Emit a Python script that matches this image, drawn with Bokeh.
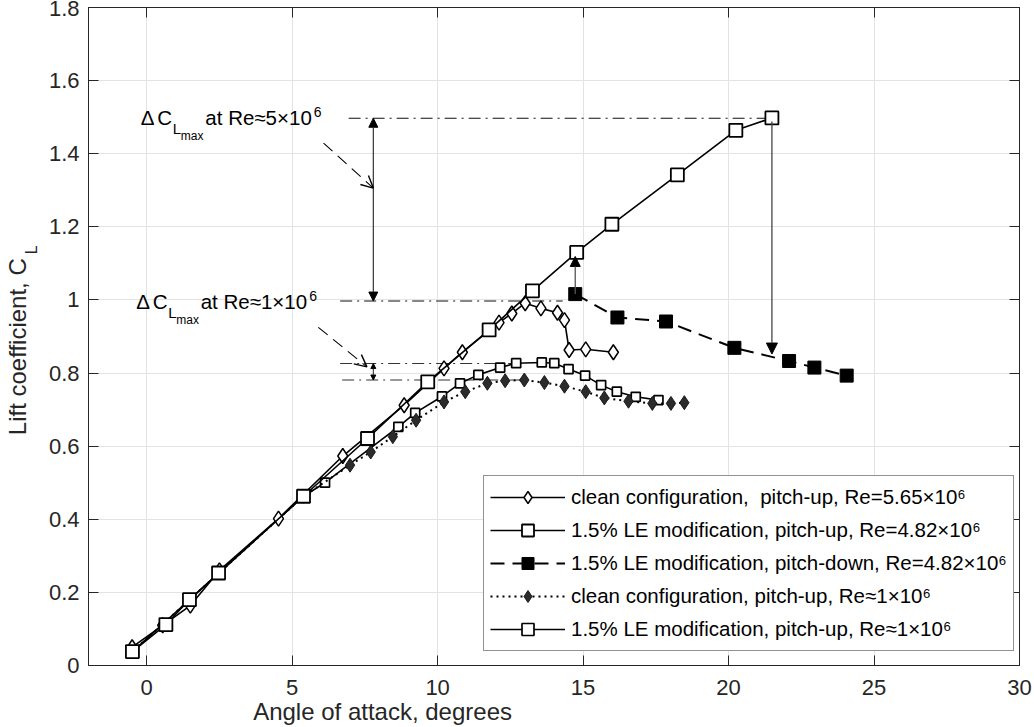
from math import pi, sin, cos
from bokeh.plotting import figure
from bokeh.models import (LinearAxis, FixedTicker, Range1d, Legend, LegendItem, Label,
                          Arrow, NormalHead, OpenHead)
from bokeh.embed import file_html
from bokeh.resources import INLINE

# ---------------- data ----------------
# clean configuration, pitch-up, Re=5.65e6 (open diamonds, solid)
clean_hi_aoa = [-0.5, 0.55, 1.5, 2.5, 4.53, 6.74, 8.85, 10.22, 10.85, 12.11, 12.55, 13.01,
                13.55, 14.12, 14.36, 14.52, 15.09, 16.04]
clean_hi_cl = [0.05, 0.11, 0.164, 0.26, 0.402, 0.573, 0.712, 0.813, 0.857, 0.938, 0.963, 0.991,
               0.977, 0.965, 0.945, 0.863, 0.865, 0.857]

# 1.5% LE modification, pitch-up, Re=4.82e6 (large open squares, solid)
le_up_aoa = [-0.49, 0.66, 1.47, 2.47, 5.39, 7.59, 9.66, 11.77, 13.26, 14.78, 15.99, 18.24,
             20.25, 21.49]
le_up_cl = [0.038, 0.112, 0.18, 0.253, 0.463, 0.621, 0.776, 0.918, 1.025, 1.13, 1.207, 1.342,
            1.464, 1.498]

# 1.5% LE modification, pitch-down, Re=4.82e6 (filled squares, dashed)
le_down_aoa = [14.73, 16.18, 17.85, 20.2, 22.08, 22.95, 24.06]
le_down_cl = [1.016, 0.952, 0.941, 0.869, 0.833, 0.815, 0.793]

# clean configuration, pitch-up, Re~1e6 (filled diamonds, dotted)
clean_lo_aoa = [-0.49, 5.39, 6.99, 7.7, 8.46, 9.26, 10.22, 10.95, 11.71, 12.32, 12.98, 13.67,
                14.36, 15.09, 15.73, 16.56, 17.38, 18.02, 18.48]
clean_lo_cl = [0.038, 0.463, 0.548, 0.584, 0.626, 0.671, 0.721, 0.749, 0.772, 0.779, 0.781,
               0.774, 0.764, 0.749, 0.732, 0.723, 0.717, 0.717, 0.719]

# 1.5% LE modification, pitch-up, Re~1e6 (small open squares, solid)
le_lo_aoa = [-0.49, 5.39, 6.13, 8.65, 9.23, 10.15, 10.77, 11.4, 12.15, 12.7, 13.58, 14.01,
             14.5, 15.07, 15.62, 16.16, 16.81, 17.59]
le_lo_cl = [0.038, 0.463, 0.5, 0.653, 0.691, 0.736, 0.772, 0.795, 0.815, 0.827, 0.829, 0.827,
            0.811, 0.793, 0.767, 0.749, 0.735, 0.726]

# annotation levels
dcl_hi_levels = [0.997, 1.497]
dcl_hi_x = [[6.65, 14.3], [6.94, 21.49]]
dcl_lo_levels = [0.781, 0.826]
dcl_lo_x = [[6.72, 12.98], [6.65, 12.7]]
dcl_arrow_x = 7.79

x_ticks = [0, 5, 10, 15, 20, 25, 30]
y_ticks = [0, 0.2, 0.4, 0.6, 0.8, 1, 1.2, 1.4, 1.6, 1.8]
y_tick_labels = ["0", "0.2", "0.4", "0.6", "0.8", "1", "1.2", "1.4", "1.6", "1.8"]

legend_labels = [
    "clean configuration,  pitch-up, Re=5.65\u00d710\u2076",
    "1.5% LE modification, pitch-up, Re=4.82\u00d710\u2076",
    "1.5% LE modification, pitch-down, Re=4.82\u00d710\u2076",
    "clean configuration, pitch-up, Re\u22481\u00d710\u2076",
    "1.5% LE modification, pitch-up, Re\u22481\u00d710\u2076",
]

FONT = "Liberation Sans"
AX = "#262626"

p = figure(width=1034, height=727, x_range=Range1d(-2, 30), y_range=Range1d(0, 1.8),
           output_backend="svg", toolbar_location=None,
           min_border_left=88, min_border_right=15, min_border_top=7, min_border_bottom=62)
p.background_fill_color = "white"
p.border_fill_color = "white"
p.outline_line_color = AX

p.add_layout(LinearAxis(), "above")
p.add_layout(LinearAxis(), "right")
p.xaxis.ticker = FixedTicker(ticks=x_ticks)
p.yaxis.ticker = FixedTicker(ticks=y_ticks)
p.yaxis.major_label_overrides = {t: s for t, s in zip(y_ticks, y_tick_labels)}

for ax in p.axis:
    ax.major_tick_in = 10
    ax.major_tick_out = 0
    ax.minor_tick_in = 0
    ax.minor_tick_out = 0
    ax.axis_line_color = AX
    ax.major_tick_line_color = AX
    ax.major_label_text_font = FONT
    ax.major_label_text_font_size = "22px"
    ax.major_label_text_color = AX
p.below[0].major_label_standoff = 14
p.left[0].major_label_standoff = 9
for ax in (p.above[0], p.right[0]):
    ax.major_label_text_font_size = "0px"
    ax.major_label_text_color = None
    ax.major_label_standoff = 0

p.xgrid.grid_line_color = "#e3e3e3"
p.ygrid.grid_line_color = "#e3e3e3"
p.xgrid.grid_line_width = 1
p.ygrid.grid_line_width = 1

# ---- dash-dot reference lines ----
for lvl, xs in zip(dcl_hi_levels, dcl_hi_x):
    p.line(xs, [lvl, lvl], line_color="#111111", line_width=1.1, line_dash="12 5 2 5")
for lvl, xs in zip(dcl_lo_levels, dcl_lo_x):
    p.line(xs, [lvl, lvl], line_color="#333333", line_width=1.1, line_dash="12 5 2 5")

# ---- series ----
l5 = p.line(le_lo_aoa, le_lo_cl, line_color="black", line_width=1.6)
s5 = p.scatter(le_lo_aoa, le_lo_cl, marker="square", size=9, fill_color="white",
               line_color="black", line_width=1.7)
l4 = p.line(clean_lo_aoa, clean_lo_cl, line_color="black", line_width=2, line_dash="2 4")
s4 = p.scatter(clean_lo_aoa, clean_lo_cl, marker="diamond", size=14, fill_color="#2b2b2b",
               line_color="#1a1a1a", line_width=1)
l1 = p.line(clean_hi_aoa, clean_hi_cl, line_color="black", line_width=1.6)
s1 = p.scatter(clean_hi_aoa, clean_hi_cl, marker="diamond", size=15, fill_color="white",
               line_color="black", line_width=1.5)
l2 = p.line(le_up_aoa, le_up_cl, line_color="black", line_width=1.6)
s2 = p.scatter(le_up_aoa, le_up_cl, marker="square", size=13, fill_color="white",
               line_color="black", line_width=1.8)
l3 = p.line(le_down_aoa, le_down_cl, line_color="black", line_width=2, line_dash="14 8")
s3 = p.scatter(le_down_aoa, le_down_cl, marker="square", size=13, fill_color="black",
               line_color="black", line_width=1)

# ---- arrows ----
p.add_layout(Arrow(x_start=le_up_aoa[-1], y_start=le_up_cl[-1] - 0.01, x_end=le_up_aoa[-1],
                   y_end=0.852, line_color="#444444", line_width=1.3,
                   end=NormalHead(size=11, fill_color="black", line_color="black")))
p.add_layout(Arrow(x_start=le_down_aoa[0], y_start=le_down_cl[0], x_end=le_down_aoa[0],
                   y_end=1.119, line_color="#555555", line_width=1.3,
                   end=NormalHead(size=10, fill_color="black", line_color="black")))
p.add_layout(Arrow(x_start=dcl_arrow_x, y_start=dcl_hi_levels[0], x_end=dcl_arrow_x,
                   y_end=dcl_hi_levels[1], line_color="#333333", line_width=1.2,
                   start=NormalHead(size=9, fill_color="black", line_color="black"),
                   end=NormalHead(size=9, fill_color="black", line_color="black")))
p.add_layout(Arrow(x_start=dcl_arrow_x, y_start=dcl_lo_levels[0], x_end=dcl_arrow_x,
                   y_end=dcl_lo_levels[1], line_color="#222222", line_width=1,
                   start=NormalHead(size=5, fill_color="black", line_color="black"),
                   end=NormalHead(size=5, fill_color="black", line_color="black")))
p.add_layout(Arrow(x_start=6.08, y_start=1.429, x_end=7.79, y_end=1.306, line_color="black",
                   line_width=1.1, line_dash="12 7",
                   end=OpenHead(size=12, line_color="black", line_width=1.4)))
p.add_layout(Arrow(x_start=5.90, y_start=0.925, x_end=7.57, y_end=0.817, line_color="black",
                   line_width=1.1, line_dash="12 7",
                   end=OpenHead(size=12, line_color="black", line_width=1.4)))


def txt(x, y, s, size, dx=0, dy=0, angle=0, color="black", place="center"):
    # anchor given at the text baseline; the label is drawn centred vertically,
    # so shift it by the distance between baseline and the font's middle
    m = 0.35 * size
    p.add_layout(Label(x=x, y=y, text=s, x_offset=dx - sin(angle) * m,
                       y_offset=dy + cos(angle) * m, angle=angle,
                       text_font=FONT, text_font_size=f"{size}px", text_color=color,
                       text_baseline="middle", text_align="left"), place)


def dclmax(x, y, re_txt):
    txt(x, y, "\u0394", 20.5, 0, 0)
    txt(x, y, "C", 20.5, 16.5, 0)
    txt(x, y, "L", 15, 32, -9)
    txt(x, y, "max", 12, 40, -15)
    txt(x, y, "at Re\u2248" + re_txt + "\u00d710", 20.5, 64.5, 0)
    txt(x, y, "6", 14, 173, 8)


dclmax(-0.2, 1.479, "5")
dclmax(-0.36, 0.975, "1")

# axis titles (placed in the side panels so they are not clipped by the frame)
txt(3.66, -0.148, "Angle of attack, degrees", 24, color=AX, place="below")
txt(-4.14, 0.630, "Lift coefficient, C", 24, angle=pi / 2, color=AX, place="left")
txt(-4.14, 0.630, "L", 16, dx=11, dy=181, angle=pi / 2, color=AX, place="left")

# legend
items = [LegendItem(label=lab, renderers=[l, s]) for lab, l, s in
         zip(legend_labels, [l1, l2, l3, l4, l5], [s1, s2, s3, s4, s5])]
leg = Legend(items=items, location=(395, 14), glyph_width=75, glyph_height=30,
             label_height=30, spacing=3, padding=6, margin=0, label_standoff=6,
             label_text_font=FONT, label_text_font_size="20.5px", label_text_color="black",
             border_line_color=AX, border_line_width=1, background_fill_color="white",
             background_fill_alpha=1)
p.add_layout(leg, "center")

open("out.html", "w").write(file_html(p, INLINE))
